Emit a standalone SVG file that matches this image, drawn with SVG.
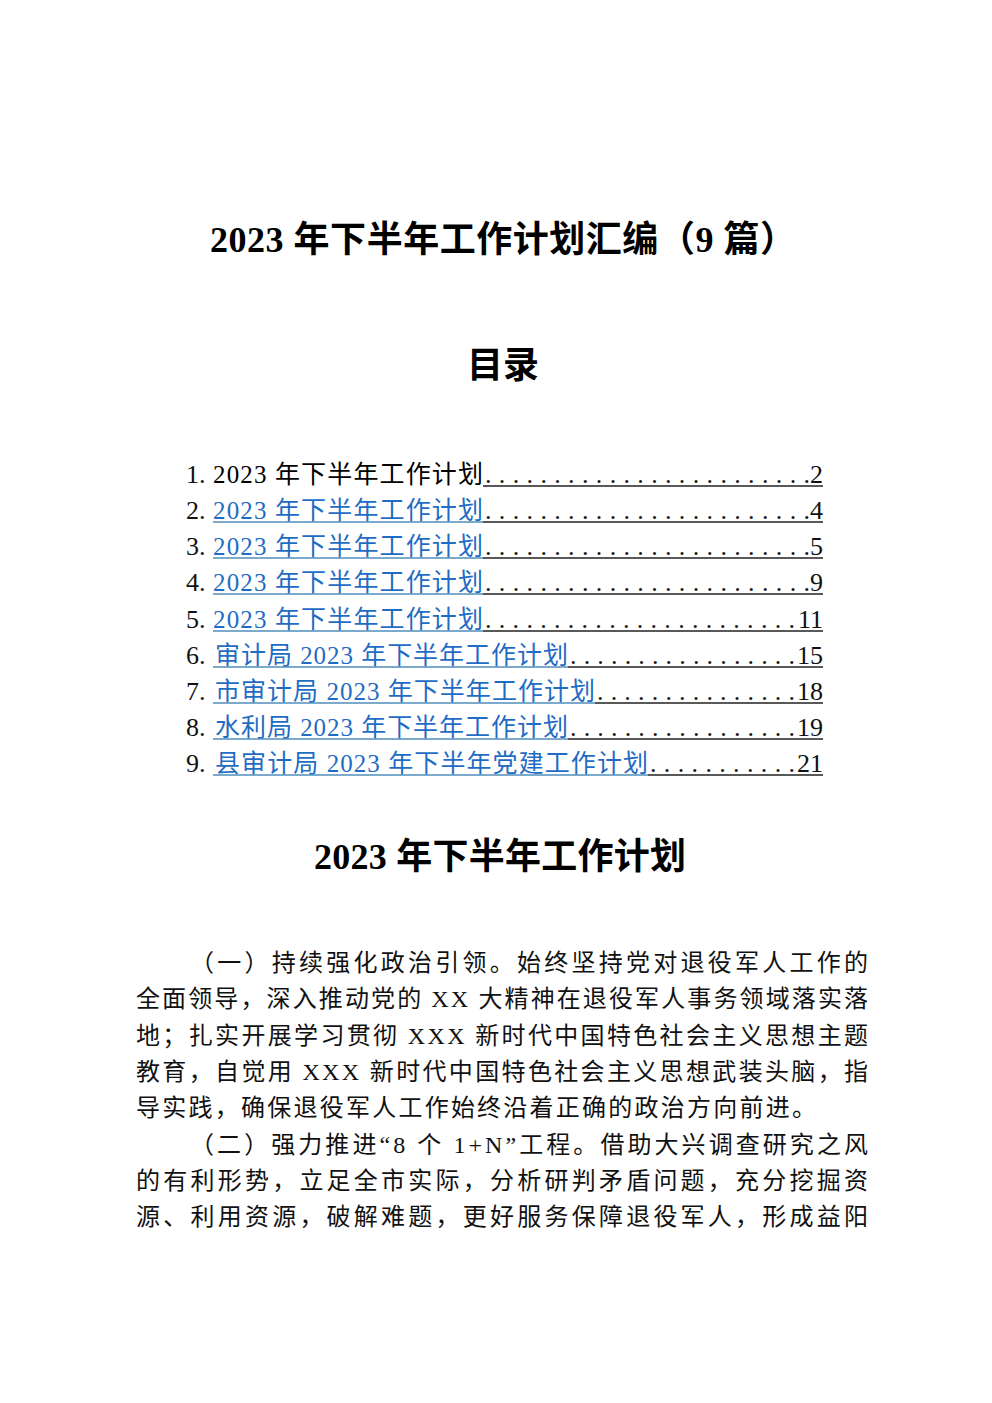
<svg xmlns="http://www.w3.org/2000/svg" width="992" height="1403" viewBox="0 0 992 1403">
<style>
.t{font-family:"Liberation Serif","Noto Sans CJK SC",serif;fill:#000}
.h{font-size:36px;font-weight:700}
.toc{font-size:25px}
.num{font-size:26px;font-family:"Liberation Serif",serif;fill:#111}
.link{fill:#1F6CC4}
.b{font-size:24px;fill:#111}
.ul{stroke:#4F8EBB;stroke-width:1.5}
.ud{stroke:#222;stroke-width:1.5}
</style>
<rect width="992" height="1403" fill="#fff"/>
<g id="title">
<text class="t h" x="210" y="252" textLength="586">2023 年下半年工作计划汇编（9 篇）</text>
</g>
<g id="toc-heading">
<text class="t h" x="467" y="378">目录</text>
</g>
<g id="toc">
<g id="toc1">
<text class="num" x="186" y="483">1.</text>
<text class="t toc" x="213" y="483" textLength="270">2023 年下半年工作计划</text>
<text class="num" x="485" y="483" textLength="325">........................</text>
<text class="num" x="823" y="483" text-anchor="end">2</text>
<line class="ud" x1="483" y1="486" x2="823" y2="486"/>
</g>
<g id="toc2">
<text class="num" x="186" y="519">2.</text>
<text class="t toc link" x="213" y="519" textLength="270">2023 年下半年工作计划</text>
<line class="ul" x1="213" y1="522" x2="483" y2="522"/>
<text class="num" x="485" y="519" textLength="325">........................</text>
<text class="num" x="823" y="519" text-anchor="end">4</text>
<line class="ud" x1="483" y1="522" x2="823" y2="522"/>
</g>
<g id="toc3">
<text class="num" x="186" y="555">3.</text>
<text class="t toc link" x="213" y="555" textLength="270">2023 年下半年工作计划</text>
<line class="ul" x1="213" y1="558" x2="483" y2="558"/>
<text class="num" x="485" y="555" textLength="325">........................</text>
<text class="num" x="823" y="555" text-anchor="end">5</text>
<line class="ud" x1="483" y1="558" x2="823" y2="558"/>
</g>
<g id="toc4">
<text class="num" x="186" y="591">4.</text>
<text class="t toc link" x="213" y="591" textLength="270">2023 年下半年工作计划</text>
<line class="ul" x1="213" y1="594" x2="483" y2="594"/>
<text class="num" x="485" y="591" textLength="325">........................</text>
<text class="num" x="823" y="591" text-anchor="end">9</text>
<line class="ud" x1="483" y1="594" x2="823" y2="594"/>
</g>
<g id="toc5">
<text class="num" x="186" y="628">5.</text>
<text class="t toc link" x="213" y="628" textLength="270">2023 年下半年工作计划</text>
<line class="ul" x1="213" y1="631" x2="483" y2="631"/>
<text class="num" x="485" y="628" textLength="310">.......................</text>
<text class="num" x="823" y="628" text-anchor="end">11</text>
<line class="ud" x1="483" y1="631" x2="823" y2="631"/>
</g>
<g id="toc6">
<text class="num" x="186" y="664">6.</text>
<text class="t toc link" x="215" y="664" textLength="353">审计局 2023 年下半年工作计划</text>
<line class="ul" x1="213" y1="667" x2="568" y2="667"/>
<text class="num" x="570" y="664" textLength="225">.................</text>
<text class="num" x="823" y="664" text-anchor="end">15</text>
<line class="ud" x1="568" y1="667" x2="823" y2="667"/>
</g>
<g id="toc7">
<text class="num" x="186" y="700">7.</text>
<text class="t toc link" x="215" y="700" textLength="380">市审计局 2023 年下半年工作计划</text>
<line class="ul" x1="213" y1="703" x2="595" y2="703"/>
<text class="num" x="597" y="700" textLength="198">...............</text>
<text class="num" x="823" y="700" text-anchor="end">18</text>
<line class="ud" x1="595" y1="703" x2="823" y2="703"/>
</g>
<g id="toc8">
<text class="num" x="186" y="736">8.</text>
<text class="t toc link" x="215" y="736" textLength="353">水利局 2023 年下半年工作计划</text>
<line class="ul" x1="213" y1="739" x2="568" y2="739"/>
<text class="num" x="570" y="736" textLength="225">.................</text>
<text class="num" x="823" y="736" text-anchor="end">19</text>
<line class="ud" x1="568" y1="739" x2="823" y2="739"/>
</g>
<g id="toc9">
<text class="num" x="186" y="772">9.</text>
<text class="t toc link" x="215" y="772" textLength="433">县审计局 2023 年下半年党建工作计划</text>
<line class="ul" x1="213" y1="775" x2="648" y2="775"/>
<text class="num" x="650" y="772" textLength="145">...........</text>
<text class="num" x="823" y="772" text-anchor="end">21</text>
<line class="ud" x1="648" y1="775" x2="823" y2="775"/>
</g>
</g>
<g id="section-title">
<text class="t h" x="314" y="869" textLength="372">2023 年下半年工作计划</text>
</g>
<g id="body">
<text class="t b" x="190" y="971" textLength="678">（一）持续强化政治引领。始终坚持党对退役军人工作的</text>
<text class="t b" x="136" y="1007" textLength="732">全面领导，深入推动党的 XX 大精神在退役军人事务领域落实落</text>
<text class="t b" x="136" y="1044" textLength="732">地；扎实开展学习贯彻 XXX 新时代中国特色社会主义思想主题</text>
<text class="t b" x="136" y="1080" textLength="732">教育，自觉用 XXX 新时代中国特色社会主义思想武装头脑，指</text>
<text class="t b" x="136" y="1116" textLength="680">导实践，确保退役军人工作始终沿着正确的政治方向前进。</text>
<text class="t b" x="190" y="1153" textLength="678">（二）强力推进“8 个 1+N”工程。借助大兴调查研究之风</text>
<text class="t b" x="136" y="1189" textLength="732">的有利形势，立足全市实际，分析研判矛盾问题，充分挖掘资</text>
<text class="t b" x="136" y="1225" textLength="732">源、利用资源，破解难题，更好服务保障退役军人，形成益阳</text>
</g>
</svg>
